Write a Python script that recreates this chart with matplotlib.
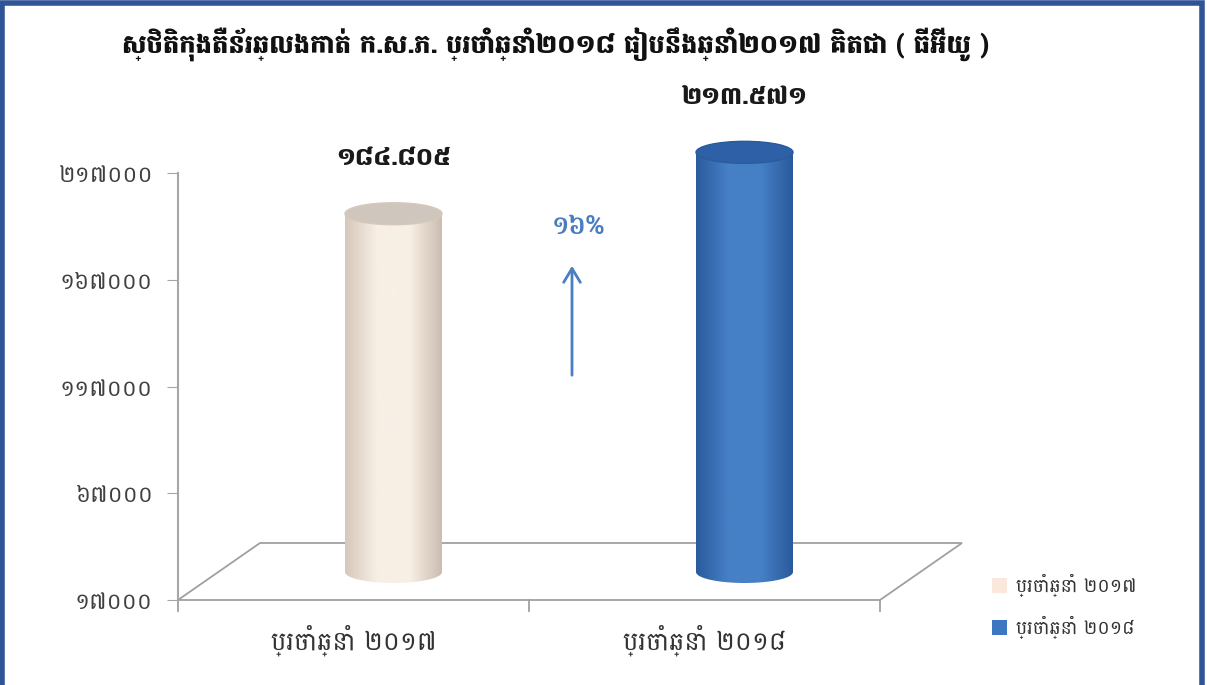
import numpy as np
import matplotlib
matplotlib.use("Agg")
import matplotlib.pyplot as plt
import matplotlib.transforms as mtransforms
from matplotlib.patches import Rectangle, Ellipse, Polygon, FancyArrowPatch
from matplotlib.lines import Line2D

# data
title = "ស្ថិតិកុងតឺន័រឆ្លងកាត់ ក.ស.ភ. ប្រចាំឆ្នាំ២០១៨ ធៀបនឹងឆ្នាំ២០១៧ គិតជា ( ធីអ៊ីយូ )"
categories = ["ប្រចាំឆ្នាំ ២០១៧", "ប្រចាំឆ្នាំ ២០១៨"]
values = [184805, 213571]
y_ticks = [17000, 67000, 117000, 167000, 217000]
bar_colors = [("#d6c8ba", "#f8efe5", "#cbbdb0", "#cfc7bd"),
              ("#2a5b9c", "#4680c6", "#2a5a9c", "#2d60a6")]
legend_colors = ["#fbe8dc", "#3e76bf"]

KH = str.maketrans("0123456789", "០១២៣៤៥៦៧៨៩")


def kh(s):
    return str(s).translate(KH)


BOLD = ["Battambang", "DejaVu Sans"]
THIN = ["Battambang", "DejaVu Sans"]

W, H = 1207, 685
fig = plt.figure(figsize=(W / 100, H / 100), dpi=100)
fig.patch.set_facecolor("white")

# frame around the picture
fig.patches.append(Rectangle((0.002, -0.01), 0.994, 1.005, transform=fig.transFigure,
                             fill=False, edgecolor="#2f5597", linewidth=4))

fig.text(122 / W, 1 - 45 / H, title, fontsize=18.5, fontweight="black", family=BOLD,
         ha="left", va="center", color="#111111")

# pixel geometry: y axis from 600 (17000) up to 173 (217000), x from 178 to 880
y_px0, y_px1, top_px = 600, 173, 70
per_px = (y_ticks[-1] - y_ticks[0]) / (y_px0 - y_px1)
ax = fig.add_axes([178 / W, 1 - y_px0 / H, (880 - 178) / W, (y_px0 - top_px) / H])
ax.set_xlim(0, 2)
ax.set_ylim(y_ticks[0], y_ticks[0] + (y_px0 - top_px) * per_px)
ax.patch.set_alpha(0)
for s in ["top", "right", "bottom"]:
    ax.spines[s].set_visible(False)
ax.spines["left"].set_color("#a6a6a6")
ax.spines["left"].set_linewidth(1.5)
ax.spines["left"].set_bounds(y_ticks[0], y_ticks[-1])
ax.set_yticks(y_ticks)
ax.set_yticklabels([kh(v) for v in y_ticks], family=THIN, fontsize=16.5, color="#404040")
ax.tick_params(axis="y", length=8, color="#a6a6a6", pad=10)
ax.set_xticks([0.5, 1.5])
ax.set_xticklabels(categories, family=THIN, fontsize=18.5, color="#333333")
ax.tick_params(axis="x", length=0, pad=18)

# floor of the 3d box
fx = 82 / (880 - 178)
fy = 57 * per_px
floor = Polygon([(0, y_ticks[0]), (2, y_ticks[0]), (2 + 2 * fx, y_ticks[0] + fy),
                 (2 * fx, y_ticks[0] + fy)], closed=True, fill=False,
                edgecolor="#a0a0a0", linewidth=1.3, clip_on=False)
ax.add_patch(floor)
for xv in [0, 1, 2]:
    ax.add_line(Line2D([xv, xv], [y_ticks[0], y_ticks[0] - 11 * per_px], color="#a0a0a0",
                       lw=1.3, clip_on=False))

# cylinders sit half way into the box
shift = mtransforms.ScaledTranslation(40 / 100, 28 / 100, fig.dpi_scale_trans)
tr = ax.transData + shift
px_x = 2 / (880 - 178)
bw = 97 * px_x
eh = 22 * per_px
base = y_ticks[0]

for i, v in enumerate(values):
    cx = 0.5 + i
    edge, mid, edge2, topc = bar_colors[i]
    t = np.linspace(np.pi, 2 * np.pi, 40)
    bottom_arc = [(cx + bw / 2 * np.cos(a), base + eh / 2 * np.sin(a)) for a in t]
    t2 = np.linspace(0, np.pi, 40)
    top_arc = [(cx + bw / 2 * np.cos(a), v + eh / 2 * np.sin(a)) for a in t2]
    verts = [(cx - bw / 2, v)] + bottom_arc + [(cx + bw / 2, v)] + top_arc
    body = Polygon(verts, closed=True, facecolor="none", edgecolor="none", transform=tr)
    ax.add_patch(body)
    cmap = matplotlib.colors.LinearSegmentedColormap.from_list(
        "c%d" % i, [edge, mid, mid, edge2])
    grad = np.linspace(0, 1, 256).reshape(1, -1)
    im = ax.imshow(grad, cmap=cmap, aspect="auto", interpolation="bicubic",
                   extent=[cx - bw / 2, cx + bw / 2, base - eh, v + eh], transform=tr,
                   zorder=2)
    im.set_clip_path(body)
    top = Ellipse((cx, v), bw, eh, facecolor=topc, edgecolor=edge, lw=1,
                  transform=tr, zorder=3)
    ax.add_patch(top)
    lbl = "%d.%03d" % (v // 1000, v % 1000)
    ax.annotate(kh(lbl), (cx, v), xycoords=tr, xytext=(0, 55), textcoords="offset pixels",
                ha="center", va="center", fontsize=17.5, fontweight="black", family=BOLD,
                color="#1a1a1a")

pct = round((values[1] / values[0] - 1) * 100)
fig.text(578 / W, 1 - 226 / H, kh(pct) + "%", fontsize=19, fontweight="semibold",
         family=["Battambang", "DejaVu Sans"], color="#4a7cc0", ha="center", va="center")
fig.patches.append(FancyArrowPatch(
    (572 / W, 1 - 378 / H), (572 / W, 1 - 263 / H), transform=fig.transFigure,
    arrowstyle="->,head_length=10,head_width=6", color="#4a7fc1", lw=2, mutation_scale=1))

# legend
for i, c in enumerate(categories):
    yy = 1 - (585 + 42 * i) / H
    fig.patches.append(Rectangle((992 / W, yy - 8 / H), 15 / W, 15 / H,
                                 transform=fig.transFigure, facecolor=legend_colors[i],
                                 edgecolor="none"))
    fig.text(1016 / W, yy, c, fontsize=13.5, family=THIN, color="#333333",
             ha="left", va="center")

fig.savefig("out.png", dpi=100)
